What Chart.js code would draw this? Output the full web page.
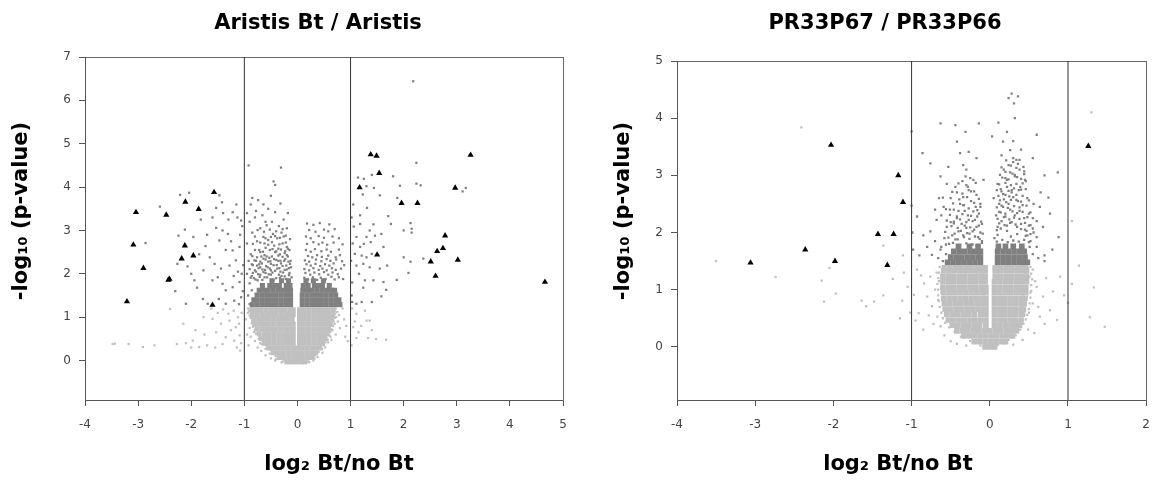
<!DOCTYPE html>
<html><head><meta charset="utf-8">
<script src="https://cdn.jsdelivr.net/npm/chart.js@4.4.1/dist/chart.umd.min.js"></script>
<style>
html,body{margin:0;padding:0;background:#fff;}
#wrap{position:relative;width:1162px;height:484px;overflow:hidden;background:#fff;}
.box{position:absolute;top:0;height:484px;}
#b1{left:0;width:580px;} #b2{left:580px;width:582px;}
canvas{display:block;}
</style></head><body>
<div id="wrap"><div class="box" id="b1"><canvas id="c1" width="580" height="484"></canvas></div><div class="box" id="b2"><canvas id="c2" width="582" height="484"></canvas></div></div>
<script>
// ================= LEFT PANEL: Aristis Bt / Aristis =================
const leftXTicks = [-4,-3,-2,-1,0,1,2,3,4,5];
const leftYTicks = [0,1,2,3,4,5,6,7];
const leftXRange = [-4, 5];
const leftYRange = [-0.91, 7];
const leftCutoffs = [-1, 1];
const leftTriangles = [[-3.04,3.42],[-3.09,2.67],[-2.90,2.13],[-3.21,1.36],[-2.47,3.36],[-2.41,1.88],[-2.43,1.86],[-2.11,3.66],[-2.12,2.65],[-2.18,2.35],[-1.96,2.42],[-1.86,3.49],[-1.57,3.88],[-1.60,1.28],[1.17,3.99],[1.38,4.75],[1.49,4.72],[1.54,4.32],[1.50,2.44],[1.96,3.63],[2.26,3.63],[2.78,2.88],[2.74,2.59],[2.63,2.52],[2.51,2.28],[2.60,1.95],[2.97,3.98],[3.02,2.32],[3.26,4.74],[4.66,1.81]];
const leftDarkDots = [
[-0.90,1.30],[-0.93,1.50],[-0.86,1.62],[-0.90,1.78],[-0.82,1.90],[-0.95,2.00],[-0.75,1.85],[-0.70,1.98],[-0.66,2.10],[-0.60,2.02],[-0.56,2.15],[-0.50,2.08],[-0.45,2.20],[-0.38,2.12],[-0.32,2.05],[-0.28,2.18],[-0.20,2.10],[-0.15,2.02],[-0.12,2.15],[-0.84,2.20],[-0.78,2.30],[-0.72,2.22],[-0.64,2.35],[-0.55,2.28],[-0.48,2.40],[-0.40,2.32],[-0.33,2.45],[-0.25,2.30],[-0.18,2.40],[-0.13,2.30],[-0.88,2.45],[-0.80,2.55],[-0.70,2.50],[-0.60,2.60],[-0.52,2.55],[-0.44,2.65],[-0.36,2.58],[-0.28,2.70],[-0.20,2.62],[-0.15,2.55],[-0.76,2.75],[-0.64,2.85],[-0.55,2.78],[-0.46,2.92],[-0.38,2.82],[-0.30,2.95],[-0.22,2.88],[-0.85,2.95],[-0.70,3.05],[-0.58,3.12],[-0.48,3.20],[-0.35,3.10],[-0.26,3.25],[-0.80,3.30],[-0.66,3.35],[-0.42,3.42],[-0.55,3.50],[-0.88,3.60],[-0.74,3.70],[-0.32,3.62],[-0.60,3.20],[-0.90,3.20],[-0.95,3.40],[-0.31,4.45],[-0.92,4.50],[-0.45,4.13],[-0.42,4.05],[-0.85,3.75],[-0.18,3.40],[-0.20,3.05],[-0.14,2.80],[-0.95,2.70],[-0.92,2.30],[-0.62,1.92],[-0.50,1.98],[-0.40,1.90],[-0.30,1.95],[-0.22,1.88],[-0.68,2.40],[-0.42,2.50],[-0.24,2.48],[-0.58,2.40],[-0.36,2.30],[-0.62,2.70],[-0.50,2.85],[-0.70,2.15],[-0.78,2.05],[-0.86,1.95],[-0.64,3.60],[-0.50,3.80],[-0.78,3.45],
[-0.88,1.91],[-0.79,1.87],[-0.71,1.93],[-0.66,1.86],[-0.57,1.92],[-0.45,1.86],[-0.33,1.91],[-0.24,1.94],[-0.19,1.87],[-0.11,1.92],[-0.84,2.02],[-0.74,1.99],[-0.64,2.04],[-0.54,1.99],[-0.47,2.03],[-0.35,1.98],[-0.27,2.03],[-0.16,1.97],[-0.90,2.11],[-0.80,2.08],[-0.73,2.13],[-0.61,2.09],[-0.52,2.12],[-0.42,2.07],[-0.34,2.13],[-0.24,2.09],[-0.16,2.13],[-0.86,2.22],[-0.76,2.19],[-0.67,2.24],[-0.59,2.18],[-0.50,2.23],[-0.39,2.20],[-0.31,2.24],[-0.21,2.19],[-0.14,2.23],[-0.81,2.31],[-0.70,2.28],[-0.60,2.33],[-0.51,2.29],[-0.44,2.34],[-0.32,2.30],[-0.23,2.34],[-0.17,2.28],[-0.85,2.41],[-0.76,2.38],[-0.62,2.43],[-0.53,2.37],[-0.36,2.42],[-0.28,2.39],[-0.20,2.43],[-0.72,2.55],[-0.65,2.51],[-0.47,2.57],[-0.40,2.52],[-0.31,2.56],[-0.23,2.52],[-0.18,2.58],[-0.84,2.69],[-0.70,2.72],[-0.55,2.67],[-0.48,2.73],[-0.34,2.68],[-0.22,2.72],[-0.80,2.86],[-0.60,2.82],[-0.42,2.87],[-0.33,2.83],[-0.26,2.86],[-0.75,3.01],[-0.63,2.97],[-0.52,3.02],[-0.40,2.98],[-0.28,3.03],
[0.13,1.91],[0.20,1.87],[0.29,1.92],[0.37,1.86],[0.44,1.91],[0.53,1.88],[0.64,1.93],[0.70,1.87],[0.78,1.92],[0.86,1.88],[0.15,2.02],[0.24,1.98],[0.32,2.03],[0.41,1.99],[0.50,2.04],[0.58,1.98],[0.66,2.03],[0.76,1.99],[0.13,2.11],[0.22,2.08],[0.30,2.13],[0.40,2.09],[0.47,2.12],[0.55,2.08],[0.65,2.13],[0.72,2.09],[0.82,2.12],[0.17,2.22],[0.25,2.19],[0.34,2.23],[0.43,2.18],[0.52,2.22],[0.60,2.19],[0.68,2.24],[0.88,2.20],[0.14,2.31],[0.22,2.28],[0.35,2.33],[0.45,2.29],[0.55,2.34],[0.62,2.30],[0.73,2.33],[0.84,2.29],[0.20,2.41],[0.28,2.38],[0.37,2.43],[0.46,2.39],[0.58,2.42],[0.72,2.38],[0.80,2.43],[0.16,2.55],[0.25,2.51],[0.33,2.57],[0.45,2.52],[0.55,2.56],[0.63,2.51],[0.78,2.56],[0.18,2.69],[0.30,2.73],[0.40,2.68],[0.47,2.72],[0.56,2.67],[0.68,2.72],[0.85,2.68],[0.16,2.86],[0.25,2.82],[0.40,2.87],[0.50,2.83],[0.66,2.86],[0.78,2.82],[0.22,3.01],[0.34,2.97],[0.50,3.02],[0.58,2.98],[0.70,3.03],[0.18,3.16],[0.30,3.13],[0.42,3.17],[0.60,3.14],
[-2.21,3.82],[-2.04,3.87],[-1.47,3.81],[-1.42,3.65],[-2.59,3.55],[-1.53,3.52],[-1.40,3.40],[-1.22,3.42],[-1.82,3.25],[-1.13,3.30],[-1.06,3.23],[-2.12,3.02],[-2.24,2.88],[-1.96,2.85],[-1.53,3.06],[-1.41,3.00],[-1.31,2.92],[-2.86,2.71],[-1.73,2.64],[-1.47,2.77],[-1.35,2.55],[-1.22,2.54],[-1.09,2.62],[-2.26,2.23],[-2.07,2.17],[-1.65,2.38],[-1.56,2.23],[-1.44,2.12],[-1.28,2.19],[-1.16,2.31],[-1.77,2.08],[-1.94,1.85],[-1.89,1.68],[-1.60,1.85],[-1.50,1.92],[-1.41,1.77],[-1.35,1.62],[-1.22,1.69],[-1.09,1.81],[-1.78,1.42],[-1.69,1.31],[-1.48,1.42],[-1.35,1.31],[-1.19,1.38],[-1.06,1.46],[-2.10,1.31],[-1.03,1.60],[-1.05,2.00],[-1.02,2.20],[-1.08,2.90],[-1.04,3.10],[-1.10,1.30],[-1.12,2.05],[-1.20,1.95],[-1.25,2.75],[-1.15,3.60],[-1.30,3.25],[-1.60,3.30],[-1.70,2.90],[-1.85,2.45],[-2.00,2.00],[-2.30,1.60],
[2.18,6.44],[2.24,4.56],[1.80,4.25],[1.14,4.22],[1.25,4.19],[1.40,4.28],[1.93,4.03],[2.24,4.08],[2.32,4.04],[3.11,3.90],[3.17,3.98],[1.30,4.02],[1.44,3.98],[1.55,3.81],[1.23,3.83],[1.88,3.75],[1.31,3.52],[1.18,3.35],[1.71,3.33],[1.76,3.15],[2.13,3.17],[2.15,3.04],[2.15,2.95],[2.00,3.00],[1.18,3.15],[1.43,3.14],[1.06,3.09],[1.36,3.00],[1.11,2.85],[1.30,2.85],[1.46,2.88],[1.58,2.92],[1.38,2.73],[1.25,2.69],[1.18,2.62],[1.62,2.62],[1.08,2.46],[1.21,2.42],[1.30,2.38],[1.40,2.46],[2.00,2.38],[2.13,2.28],[2.37,2.35],[1.69,2.19],[1.55,2.12],[1.11,2.19],[1.24,2.23],[1.36,2.15],[2.09,2.02],[1.87,1.86],[1.16,2.00],[1.27,1.85],[1.43,1.85],[1.62,1.81],[1.24,1.68],[1.67,1.63],[1.58,1.48],[1.40,1.35],[1.11,1.31],[1.21,1.35],[1.02,1.50],[1.03,1.80],[1.01,2.30],[1.04,2.70],[1.02,3.30],[1.05,3.60],[1.03,1.35]
];
const leftDarkRows = [
[1.29, -0.85,-0.76,-0.67,-0.58,-0.49,-0.40,-0.31,-0.22,-0.13,0.09,0.18,0.27,0.36,0.45,0.54,0.63,0.72,0.80],
[1.40, -0.82,-0.76,-0.67,-0.58,-0.49,-0.40,-0.31,-0.22,-0.13,0.09,0.18,0.27,0.36,0.45,0.54,0.63,0.72,0.78],
[1.51, -0.76,-0.67,-0.58,-0.49,-0.40,-0.31,-0.22,-0.13,0.09,0.18,0.27,0.36,0.45,0.54,0.63,0.72],
[1.62, -0.72,-0.64,-0.55,-0.46,-0.37,-0.28,-0.19,-0.13,0.10,0.19,0.28,0.37,0.46,0.55,0.64,0.70],
[1.73, -0.66,-0.52,-0.43,-0.34,-0.21,-0.14,0.11,0.20,0.32,0.41,0.47,0.60],
[1.84, -0.48,-0.30,-0.17,0.16,0.30,0.49]
];
const leftLightDots = [
[-0.93,1.10],[-0.97,0.95],[-0.90,0.75],[-0.88,0.55],[-0.80,0.45],[-0.75,0.30],[-0.68,0.22],[-0.60,0.12],[-0.50,0.05],[-0.42,0.00],[-0.95,0.60],[-0.85,0.90],[-0.92,0.35],[-0.30,-0.04],[-0.86,1.20],[-0.78,0.62],[-0.70,0.40],
[-0.27,-0.02],[-0.26,0.04],[-0.41,0.10],[-0.40,0.03],[-0.52,0.16],[-0.50,0.24],[-0.60,0.27],[-0.58,0.34],[-0.67,0.38],[-0.66,0.46],[-0.73,0.50],[-0.72,0.57],[-0.77,0.62],[-0.80,0.70],[-0.84,0.78],[-0.86,0.86],[-0.88,0.98],[-0.90,1.04],[-0.91,1.15],[-0.93,1.20],[-0.82,0.66],
[0.70,1.15],[0.73,1.00],[0.70,0.85],[0.66,0.70],[0.62,0.55],[0.58,0.42],[0.52,0.30],[0.47,0.18],[0.38,0.08],[0.30,0.00],[0.78,1.05],[0.76,0.90],[0.72,0.60],[0.80,0.75],[0.85,1.20],[0.88,0.95],[0.92,0.80],[0.95,0.45],[0.90,0.55],[0.22,-0.04],[0.64,0.48],
[0.20,-0.02],[0.32,0.05],[0.33,0.12],[0.40,0.20],[0.46,0.27],[0.50,0.35],[0.53,0.42],[0.57,0.48],[0.60,0.58],[0.62,0.66],[0.64,0.72],[0.67,0.80],[0.68,0.90],[0.70,0.98],[0.71,1.08],[0.72,1.20],[0.75,1.12],
[-1.77,1.00],[-1.60,0.96],[-1.44,0.85],[-1.28,0.92],[-1.16,0.77],[-1.53,0.65],[-1.35,0.54],[-1.19,0.46],[-1.75,0.60],[-1.41,0.38],[-1.97,0.46],[-1.85,0.31],[-2.10,0.40],[-2.27,0.38],[-2.69,0.35],[-2.91,0.31],[-3.18,0.38],[-3.48,0.38],[-3.44,0.39],[-1.09,0.58],[-1.08,0.23],[-1.05,1.10],[-1.12,1.00],[-1.20,1.15],[-1.30,1.08],[-1.40,1.18],[-1.50,1.10],[-1.62,1.20],[-1.10,0.85],[-1.25,0.70],[-1.06,0.40],[-1.14,0.30],[-1.55,0.30],[-1.70,0.35],[-2.00,0.30],[-2.40,1.19],[-1.92,0.70],[-2.15,0.85],
[1.27,1.15],[1.11,1.08],[1.30,0.92],[1.36,0.92],[1.11,0.52],[1.33,0.52],[1.48,0.50],[1.67,0.48],[1.05,0.77],[1.03,1.20],[1.08,0.90],[1.15,0.65],[1.20,0.80],[1.02,0.35],[1.40,0.70]
];
const leftLightRows = [
[-0.03, -0.20,-0.11,-0.02,0.07,0.14],
[0.07, -0.34,-0.25,-0.16,-0.07,0.02,0.11,0.20,0.27],
[0.18, -0.45,-0.36,-0.27,-0.18,-0.09,0.00,0.09,0.18,0.27,0.34],
[0.29, -0.54,-0.45,-0.36,-0.27,-0.18,-0.09,0.00,0.09,0.18,0.27,0.36,0.42],
[0.40, -0.62,-0.53,-0.44,-0.35,-0.26,-0.17,-0.08,0.04,0.13,0.22,0.31,0.40,0.47],
[0.51, -0.68,-0.62,-0.53,-0.44,-0.35,-0.26,-0.17,-0.08,0.04,0.13,0.22,0.31,0.40,0.49,0.52],
[0.62, -0.72,-0.62,-0.53,-0.44,-0.35,-0.26,-0.17,-0.08,0.04,0.13,0.22,0.31,0.40,0.49,0.56],
[0.73, -0.76,-0.67,-0.58,-0.49,-0.40,-0.31,-0.22,-0.13,-0.08,0.04,0.13,0.22,0.31,0.40,0.49,0.58],
[0.84, -0.80,-0.71,-0.62,-0.53,-0.44,-0.35,-0.26,-0.17,-0.08,0.04,0.13,0.22,0.31,0.40,0.49,0.58,0.62],
[0.95, -0.82,-0.73,-0.64,-0.55,-0.46,-0.37,-0.28,-0.19,-0.10,0.04,0.13,0.22,0.31,0.40,0.49,0.58,0.64],
[1.06, -0.85,-0.76,-0.67,-0.58,-0.49,-0.40,-0.31,-0.22,-0.13,-0.08,0.04,0.13,0.22,0.31,0.40,0.49,0.58,0.66],
[1.17, -0.86,-0.77,-0.68,-0.59,-0.50,-0.41,-0.32,-0.23,-0.14,-0.08,0.04,0.13,0.22,0.31,0.40,0.49,0.58,0.67]
];

// ================= RIGHT PANEL: PR33P67 / PR33P66 =================
const rightXTicks = [-4,-3,-2,-1,0,1,2];
const rightYTicks = [0,1,2,3,4,5];
const rightXRange = [-4, 2];
const rightYRange = [-0.93, 5];
const rightCutoffs = [-1, 1];
const rightTriangles = [[-2.03,3.53],[-1.17,3.00],[-1.11,2.53],[-1.43,1.97],[-1.23,1.97],[-2.36,1.70],[-1.98,1.50],[-3.06,1.47],[-1.31,1.43],[1.26,3.51]];
const rightDarkDots = [
[-0.60,1.50],[-0.56,1.62],[-0.62,1.75],[-0.52,1.80],[-0.58,1.90],[-0.48,1.95],[-0.44,1.88],[-0.40,2.02],[-0.34,1.95],[-0.30,2.08],[-0.26,1.98],[-0.20,2.05],[-0.15,1.92],[-0.10,1.85],[-0.12,2.00],[-0.55,2.10],[-0.50,2.18],[-0.42,2.25],[-0.36,2.15],[-0.28,2.30],[-0.22,2.20],[-0.16,2.28],[-0.10,2.15],[-0.62,2.30],[-0.46,2.40],[-0.38,2.50],[-0.32,2.38],[-0.24,2.55],[-0.18,2.45],[-0.12,2.50],[-0.50,2.60],[-0.42,2.70],[-0.34,2.62],[-0.28,2.80],[-0.20,2.72],[-0.35,2.90],[-0.25,2.95],[-0.30,3.10],[-0.34,3.18],[-0.44,2.80],[-0.53,3.15],[-0.63,2.98],[-0.76,3.21],[-0.17,3.30],[-0.38,3.39],[-0.27,3.41],[-0.42,3.59],[-0.31,3.76],[-0.44,3.88],[-0.63,3.91],[-0.14,3.91],[-0.68,2.22],[-0.76,2.02],[-0.80,1.75],[-0.74,1.61],[-0.63,1.70],[-0.70,2.40],[-0.59,2.45],[-0.51,2.40],[-0.34,2.48],[-0.21,2.37],[-0.12,2.45],[-0.93,2.28],[-0.86,3.39],[-0.46,2.16],[-0.27,2.22],[-0.17,2.10],[-0.08,2.92],[-0.21,2.92],[-0.31,2.98],[-0.17,2.66],[-0.27,2.74],[-0.66,1.55],[-0.70,1.85],[-0.85,1.95],[-0.90,1.60],[-0.65,2.60],[-0.55,2.85],[-1.00,2.47],[-1.00,3.77],[-0.98,1.70],[-0.99,2.00],
[-0.56,1.79],[-0.47,1.82],[-0.38,1.78],[-0.30,1.81],[-0.22,1.79],[-0.10,1.82],[-0.53,1.91],[-0.41,1.88],[-0.33,1.92],[-0.26,1.89],[-0.19,1.93],[-0.13,1.89],[-0.57,2.01],[-0.45,1.98],[-0.37,2.03],[-0.29,1.99],[-0.22,2.02],[-0.09,1.98],[-0.49,2.11],[-0.41,2.08],[-0.32,2.12],[-0.25,2.09],[-0.14,2.12],[-0.55,2.21],[-0.46,2.19],[-0.38,2.23],[-0.30,2.18],[-0.19,2.22],[-0.11,2.19],[-0.51,2.31],[-0.42,2.28],[-0.35,2.32],[-0.24,2.29],[-0.14,2.33],[-0.56,2.41],[-0.40,2.38],[-0.27,2.42],[-0.16,2.39],[-0.47,2.51],[-0.33,2.48],[-0.20,2.52],[-0.60,2.61],[-0.39,2.58],[-0.29,2.62],[-0.14,2.59],[-0.48,2.71],[-0.35,2.68],[-0.24,2.72],[-0.40,2.86],[-0.30,2.83],[-0.18,2.87],
[0.50,1.50],[0.55,1.62],[0.60,1.75],[0.52,1.85],[0.48,1.95],[0.45,2.05],[0.50,2.12],[0.56,2.00],[0.40,2.15],[0.35,2.10],[0.28,2.18],[0.22,2.12],[0.15,2.20],[0.10,2.10],[0.06,1.90],[0.08,2.30],[0.14,2.35],[0.20,2.28],[0.26,2.40],[0.32,2.30],[0.38,2.38],[0.44,2.25],[0.52,2.35],[0.60,2.20],[0.12,2.50],[0.18,2.58],[0.24,2.50],[0.30,2.62],[0.36,2.55],[0.42,2.48],[0.48,2.60],[0.56,2.50],[0.15,2.72],[0.22,2.80],[0.28,2.70],[0.34,2.85],[0.40,2.75],[0.46,2.90],[0.20,2.95],[0.26,3.05],[0.32,2.98],[0.38,3.10],[0.44,3.02],[0.13,3.01],[0.22,2.92],[0.32,3.01],[0.39,2.80],[0.45,2.92],[0.09,2.74],[0.20,2.66],[0.28,2.74],[0.34,2.57],[0.17,2.45],[0.24,3.18],[0.34,3.27],[0.43,3.15],[0.26,3.44],[0.17,3.59],[0.22,3.76],[0.03,3.68],[0.11,3.92],[0.32,4.00],[0.31,4.26],[0.24,4.35],[0.28,4.43],[0.36,4.38],[0.51,1.75],[0.60,1.92],[0.68,2.10],[0.55,2.25],[0.77,2.33],[0.64,2.45],[0.88,1.92],[0.60,3.71],[0.75,2.61],[0.87,3.05],[0.70,1.60],[0.65,2.70],[0.70,3.00],[0.55,3.30],[0.15,3.35],[0.30,3.60],[0.05,2.60],[0.70,1.50],[0.80,1.70],[0.62,1.55],[0.30,3.30],[0.40,3.45],[0.18,3.10],[0.10,2.85],[0.36,3.20],
[0.09,1.84],[0.16,1.87],[0.23,1.83],[0.30,1.86],[0.37,1.84],[0.44,1.87],[0.50,1.83],[0.10,1.96],[0.27,1.93],[0.35,1.97],[0.46,1.94],[0.52,1.97],[0.09,2.04],[0.14,2.07],[0.22,2.03],[0.40,2.06],[0.47,2.03],[0.55,2.07],[0.12,2.16],[0.19,2.13],[0.26,2.17],[0.33,2.14],[0.45,2.17],[0.52,2.13],[0.10,2.24],[0.18,2.27],[0.25,2.23],[0.31,2.26],[0.38,2.24],[0.48,2.27],[0.12,2.36],[0.20,2.33],[0.29,2.37],[0.35,2.34],[0.42,2.36],[0.50,2.33],[0.09,2.44],[0.15,2.47],[0.23,2.43],[0.31,2.46],[0.38,2.44],[0.47,2.47],[0.13,2.56],[0.21,2.53],[0.27,2.57],[0.40,2.54],[0.50,2.56],[0.11,2.64],[0.17,2.67],[0.25,2.63],[0.34,2.66],[0.42,2.64],[0.14,2.76],[0.24,2.73],[0.31,2.77],[0.37,2.74],[0.46,2.76],[0.12,2.84],[0.20,2.87],[0.27,2.83],[0.42,2.86],[0.16,2.96],[0.24,2.93],[0.35,2.97],[0.40,2.94],[0.20,3.06],[0.29,3.03],[0.44,3.07],[0.15,3.14],[0.27,3.17],[0.34,3.13],[0.21,3.26],[0.30,3.23],[0.38,3.27]
];
const rightDarkRows = [
[1.48, -0.54,-0.47,-0.40,-0.33,-0.26,-0.19,-0.12,0.10,0.17,0.24,0.31,0.38,0.44,0.48],
[1.57, -0.50,-0.43,-0.36,-0.29,-0.22,-0.15,-0.12,0.10,0.17,0.24,0.31,0.38,0.45],
[1.67, -0.46,-0.39,-0.32,-0.25,-0.18,-0.12,0.10,0.17,0.24,0.31,0.38,0.44],
[1.76, -0.40,-0.26,-0.15,0.11,0.20,0.30,0.41]
];
const rightLightDots = [
[-0.93,1.35],[-0.84,1.11],[-0.76,1.23],[-0.80,0.88],[-0.70,1.00],[-0.74,0.71],[-0.66,0.82],[-0.67,0.53],[-0.63,0.36],[-0.91,0.59],[-0.97,0.91],[-0.95,0.46],[-0.58,0.20],[-0.50,0.10],[-0.42,0.05],[-0.30,0.02],[-0.68,1.30],[-0.72,0.40],[-0.65,1.15],[-0.85,0.30],[-0.88,1.25],[-0.78,0.55],[-0.62,0.95],
[-0.12,0.02],[-0.25,0.10],[-0.37,0.18],[-0.45,0.26],[-0.52,0.34],[-0.57,0.42],[-0.60,0.50],[-0.62,0.60],[-0.64,0.70],[-0.65,0.80],[-0.66,0.90],[-0.66,1.00],[-0.67,1.10],[-0.66,1.20],[-0.65,1.30],[-0.64,1.40],
[0.10,0.03],[0.24,0.12],[0.33,0.20],[0.39,0.30],[0.43,0.40],[0.46,0.48],[0.48,0.56],[0.50,0.66],[0.51,0.76],[0.52,0.86],[0.53,0.98],[0.53,1.08],[0.54,1.18],[0.53,1.28],[0.52,1.40],
[0.51,1.23],[0.60,1.05],[0.68,0.88],[0.55,0.76],[0.77,0.64],[0.64,0.53],[0.86,0.47],[0.49,0.30],[0.57,0.24],[0.42,0.12],[0.30,0.04],[0.90,1.23],[0.81,0.97],[0.52,0.95],[0.55,1.35],[0.72,1.20],[0.62,0.70],[0.70,0.40],[0.95,0.90],[0.50,0.60],[0.58,1.15],
[-3.50,1.50],[-2.74,1.22],[-2.15,1.16],[-2.05,1.38],[-1.97,0.93],[-2.12,0.79],[-1.64,0.81],[-1.58,0.71],[-1.48,0.79],[-1.36,0.90],[-1.24,1.19],[-1.10,1.30],[-1.12,0.81],[-2.41,3.84],[-1.36,1.77],[-1.11,1.60],[-1.05,1.05],[-1.15,0.50],[-1.02,0.60],[1.14,1.42],[1.05,1.10],[1.33,1.04],[1.28,0.52],[1.47,0.35],[1.00,0.77],[1.30,4.10],[1.05,2.20]
];
const rightLightRows = [
[0.00, -0.06,0.00,0.06],
[0.09, -0.20,-0.13,-0.06,0.01,0.08,0.15,0.20],
[0.19, -0.33,-0.26,-0.19,-0.12,-0.05,0.02,0.09,0.16,0.23,0.29],
[0.28, -0.42,-0.35,-0.28,-0.21,-0.14,-0.07,0.00,0.07,0.14,0.21,0.28,0.34],
[0.38, -0.48,-0.41,-0.34,-0.27,-0.20,-0.13,-0.05,0.06,0.13,0.20,0.27,0.33,0.38],
[0.47, -0.53,-0.46,-0.39,-0.32,-0.25,-0.19,-0.12,-0.05,0.06,0.13,0.19,0.26,0.33,0.40],
[0.57, -0.55,-0.48,-0.41,-0.34,-0.27,-0.20,-0.12,-0.05,0.06,0.13,0.19,0.26,0.33,0.40,0.42],
[0.66, -0.57,-0.50,-0.43,-0.36,-0.29,-0.22,-0.15,-0.08,-0.05,0.06,0.13,0.19,0.26,0.33,0.40,0.43],
[0.76, -0.58,-0.51,-0.44,-0.37,-0.30,-0.23,-0.16,-0.09,-0.05,0.06,0.13,0.19,0.26,0.33,0.40,0.44],
[0.85, -0.59,-0.52,-0.45,-0.38,-0.31,-0.24,-0.17,-0.10,-0.05,0.06,0.13,0.19,0.26,0.33,0.40,0.45],
[0.95, -0.59,-0.52,-0.45,-0.38,-0.31,-0.24,-0.17,-0.10,-0.05,0.06,0.13,0.20,0.27,0.34,0.41,0.46],
[1.04, -0.60,-0.53,-0.46,-0.39,-0.32,-0.25,-0.18,-0.11,-0.05,0.06,0.13,0.20,0.27,0.34,0.41,0.46],
[1.14, -0.60,-0.53,-0.46,-0.39,-0.32,-0.25,-0.18,-0.11,-0.06,0.06,0.13,0.20,0.27,0.34,0.41,0.47],
[1.23, -0.60,-0.53,-0.46,-0.39,-0.32,-0.25,-0.18,-0.11,-0.06,0.07,0.14,0.21,0.28,0.35,0.42,0.47],
[1.33, -0.59,-0.52,-0.45,-0.38,-0.31,-0.24,-0.17,-0.10,-0.06,0.07,0.14,0.21,0.28,0.35,0.42,0.47],
[1.38, -0.58,-0.51,-0.44,-0.37,-0.30,-0.23,-0.16,-0.10,-0.06,0.07,0.14,0.21,0.28,0.35,0.42,0.46]
];

// ================= rendering =================
Chart.defaults.font.family = '"DejaVu Sans", Verdana, sans-serif';
const toPts = a => a.map(p => ({x: p[0], y: p[1]}));
const rowsToPts = rows => rows.flatMap(r => r.slice(1).map(x => ({x: x, y: r[0]})));
const LIGHT = '#c0c0c0', DARK = '#808080', AXIS = '#555555';

function textPlugin(items) {
  return {
    id: 'panelTexts',
    afterDraw(chart) {
      const ctx = chart.ctx;
      items.forEach(t => {
        ctx.save();
        ctx.font = t.font;
        ctx.fillStyle = '#000';
        ctx.textAlign = 'center';
        ctx.textBaseline = 'alphabetic';
        ctx.translate(t.x, t.y);
        if (t.rot) ctx.rotate(t.rot);
        ctx.fillText(t.text, 0, 0);
        ctx.restore();
      });
    }
  };
}

function buildPanel(id, c) {
  const H = 484;
  const vline = x => [{x: x, y: c.yRange[0]}, {x: x, y: c.yRange[1]}];
  const tickFont = {family: '"DejaVu Sans", Verdana, sans-serif', size: 12};
  new Chart(document.getElementById(id), {
    type: 'scatter',
    data: { datasets: [
      {label: 'tri', data: toPts(c.tri), pointStyle: 'triangle', pointRadius: 3.6, backgroundColor: '#000', borderWidth: 0, order: 0},
      {type: 'line', label: 'cutLo', data: vline(c.cuts[0]), borderColor: '#333', borderWidth: 1, pointRadius: 0, fill: false, tension: 0, order: 1},
      {type: 'line', label: 'cutHi', data: vline(c.cuts[1]), borderColor: '#333', borderWidth: 1, pointRadius: 0, fill: false, tension: 0, order: 1},
      {label: 'darkDots', data: toPts(c.darkDots), pointStyle: 'rect', pointRadius: 1.6, backgroundColor: DARK, borderWidth: 0, order: 2},
      {label: 'darkCore', data: rowsToPts(c.darkRows), pointStyle: 'rect', pointRadius: c.coreR, backgroundColor: DARK, borderWidth: 0, order: 3},
      {label: 'lightDots', data: toPts(c.lightDots), pointStyle: 'rect', pointRadius: 1.6, backgroundColor: LIGHT, borderWidth: 0, order: 4},
      {label: 'lightCore', data: rowsToPts(c.lightRows), pointStyle: 'rect', pointRadius: c.coreR, backgroundColor: LIGHT, borderWidth: 0, order: 5}
    ]},
    options: {
      responsive: false, animation: false, events: [],
      layout: {padding: 0},
      plugins: {legend: {display: false}, tooltip: {enabled: false}, title: {display: false}},
      scales: {
        x: {type: 'linear', position: 'bottom', min: c.xRange[0], max: c.xRange[1],
            afterBuildTicks: s => { s.ticks = c.xTicks.map(v => ({value: v})); },
            afterFit: s => { s.height = H - c.area.bottom; },
            ticks: {autoSkip: false, maxRotation: 0, padding: 12, color: '#444', font: tickFont, callback: v => String(v)},
            grid: {display: true, drawOnChartArea: false, drawTicks: true, tickLength: 6, color: AXIS, lineWidth: 1},
            border: {display: true, color: AXIS, width: 1}},
        xTop: {type: 'linear', position: 'top', min: c.xRange[0], max: c.xRange[1],
            afterFit: s => { s.height = c.area.top; },
            ticks: {display: false}, grid: {display: false}, border: {display: true, color: '#666', width: 1}},
        y: {type: 'linear', position: 'left', min: c.yRange[0], max: c.yRange[1],
            afterBuildTicks: s => { s.ticks = c.yTicks.map(v => ({value: v})); },
            afterFit: s => { s.width = c.area.left; },
            ticks: {autoSkip: false, padding: 8, color: '#444', font: tickFont, callback: v => String(v)},
            grid: {display: true, drawOnChartArea: false, drawTicks: true, tickLength: 6, color: AXIS, lineWidth: 1},
            border: {display: true, color: AXIS, width: 1}},
        yRight: {type: 'linear', position: 'right', min: c.yRange[0], max: c.yRange[1],
            afterFit: s => { s.width = c.width - c.area.right; },
            ticks: {display: false}, grid: {display: false}, border: {display: true, color: '#666', width: 1}}
      }
    },
    plugins: [textPlugin(c.texts)]
  });
}

const titleFont = 'bold 21px "DejaVu Sans", Verdana, sans-serif';
const axisFont = 'bold 21px "DejaVu Sans", Verdana, sans-serif';

buildPanel('c1', {
  width: 580, area: {left: 85, right: 563, top: 57, bottom: 400}, coreR: 3.6,
  xTicks: leftXTicks, yTicks: leftYTicks, xRange: leftXRange, yRange: leftYRange, cuts: leftCutoffs,
  tri: leftTriangles, darkDots: leftDarkDots, darkRows: leftDarkRows, lightDots: leftLightDots, lightRows: leftLightRows,
  texts: [
    {text: 'Aristis Bt / Aristis', x: 318, y: 29, font: titleFont},
    {text: 'log\u2082 Bt/no Bt', x: 339, y: 470, font: axisFont},
    {text: '-log\u2081\u2080 (p-value)', x: 27, y: 211, rot: -Math.PI / 2, font: axisFont}
  ]
});
buildPanel('c2', {
  width: 582, area: {left: 97, right: 570, top: 61, bottom: 400}, coreR: 4,
  xTicks: rightXTicks, yTicks: rightYTicks, xRange: rightXRange, yRange: rightYRange, cuts: rightCutoffs,
  tri: rightTriangles, darkDots: rightDarkDots, darkRows: rightDarkRows, lightDots: rightLightDots, lightRows: rightLightRows,
  texts: [
    {text: 'PR33P67 / PR33P66', x: 305, y: 29, font: titleFont},
    {text: 'log\u2082 Bt/no Bt', x: 318, y: 470, font: axisFont},
    {text: '-log\u2081\u2080 (p-value)', x: 49, y: 211, rot: -Math.PI / 2, font: axisFont}
  ]
});
</script>
</body></html>
